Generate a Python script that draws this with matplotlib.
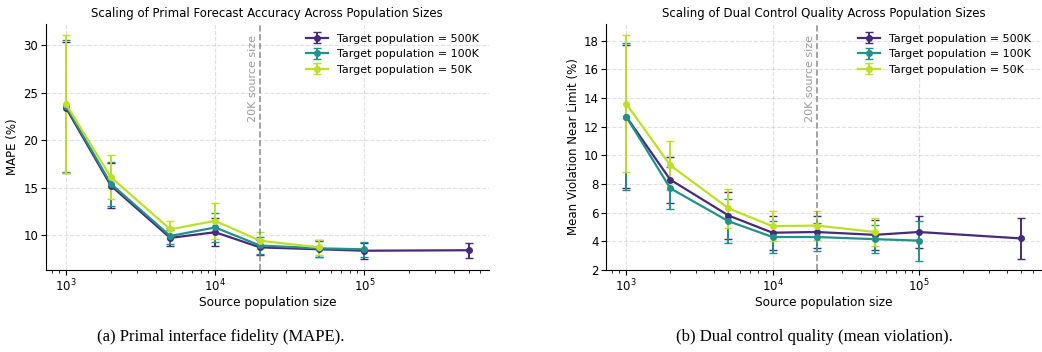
import matplotlib
matplotlib.use('Agg')
import matplotlib.pyplot as plt
import numpy as np

# source population sizes
src_500k = [1000, 2000, 5000, 10000, 20000, 50000, 100000, 500000]
src_100k = [1000, 2000, 5000, 10000, 20000, 50000, 100000]
src_50k = [1000, 2000, 5000, 10000, 20000, 50000]

# (a) MAPE (%)
mape_500k = [23.4, 15.2, 9.7, 10.3, 8.7, 8.5, 8.35, 8.4]
mape_500k_err = [6.9, 2.4, 0.85, 1.45, 0.8, 0.85, 0.85, 0.8]
mape_100k = [23.6, 15.4, 9.9, 10.8, 8.9, 8.6, 8.5]
mape_100k_err = [7.0, 2.3, 0.8, 1.5, 0.9, 0.9, 0.8]
mape_50k = [23.8, 16.1, 10.6, 11.5, 9.4, 8.7]
mape_50k_err = [7.3, 2.3, 0.9, 1.9, 0.9, 0.8]

# (b) mean violation near limit (%)
viol_500k = [12.7, 8.3, 5.8, 4.6, 4.65, 4.45, 4.65, 4.2]
viol_500k_err = [5.0, 1.6, 1.65, 1.2, 1.15, 1.05, 1.1, 1.45]
viol_100k = [12.7, 7.7, 5.4, 4.3, 4.3, 4.15, 4.05]
viol_100k_err = [5.1, 1.45, 1.55, 1.1, 1.0, 1.0, 1.4]
viol_50k = [13.6, 9.3, 6.3, 5.05, 5.1, 4.65]
viol_50k_err = [4.8, 1.7, 1.35, 1.05, 1.0, 0.95]

labels = ['Target population = 500K', 'Target population = 100K', 'Target population = 50K']
colors = plt.cm.viridis(np.linspace(0.12, 0.9, 3))
colors[1] = plt.cm.viridis(0.5)

plt.rcParams['font.family'] = 'DejaVu Sans'

fig = plt.figure(figsize=(10.42, 3.52), dpi=100)
ax1 = fig.add_axes([0.044, 0.233, 0.425, 0.70])
ax2 = fig.add_axes([0.582, 0.233, 0.417, 0.70])


def draw(ax, series, title, ylabel):
    for (x, y, e), lab, c in zip(series, labels, colors):
        ax.errorbar(x, y, yerr=e, label=lab, color=c, marker='o', markersize=4,
                    linewidth=1.6, capsize=3, elinewidth=1.4)
    ax.set_xscale('log')
    ax.axvline(20000, color='gray', linestyle='--', linewidth=1.2, alpha=0.85)
    ax.text(0.975 * 20000, 0.955, '20K source size', transform=ax.get_xaxis_transform(),
            rotation=90, ha='right', va='top', color='gray', fontsize=8, alpha=0.8)
    ax.grid(True, linestyle='--', alpha=0.4)
    ax.set_title(title, fontsize=8.5, pad=5)
    ax.set_xlabel('Source population size', fontsize=8.7, labelpad=1)
    ax.set_ylabel(ylabel, fontsize=8.5, labelpad=3)
    ax.tick_params(labelsize=8.5, pad=2)
    ax.spines['top'].set_visible(False)
    ax.spines['right'].set_visible(False)
    ax.legend(loc='upper right', frameon=False, fontsize=8)


draw(ax1, [(src_500k, mape_500k, mape_500k_err),
           (src_100k, mape_100k, mape_100k_err),
           (src_50k, mape_50k, mape_50k_err)],
     'Scaling of Primal Forecast Accuracy Across Population Sizes', 'MAPE (%)')
draw(ax2, [(src_500k, viol_500k, viol_500k_err),
           (src_100k, viol_100k, viol_100k_err),
           (src_50k, viol_50k, viol_50k_err)],
     'Scaling of Dual Control Quality Across Population Sizes', 'Mean Violation Near Limit (%)')
ax2.set_ylim(2, None)

fig.text(0.212, 0.03, '(a) Primal interface fidelity (MAPE).', ha='center',
         fontsize=12, family='Liberation Serif')
fig.text(0.782, 0.03, '(b) Dual control quality (mean violation).', ha='center',
         fontsize=12, family='Liberation Serif')

fig.savefig('out.png', dpi=100)
